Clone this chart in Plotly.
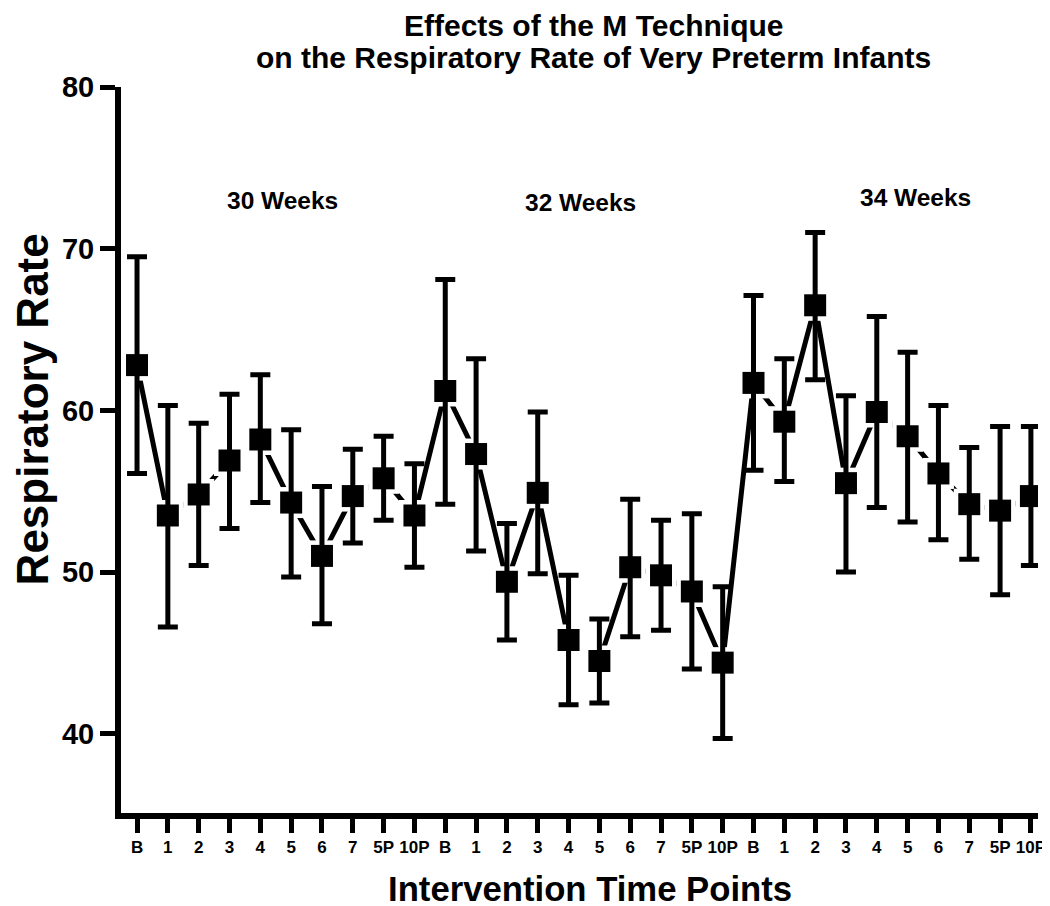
import plotly.graph_objects as go

# ---- data ----
time_points = ["B", "1", "2", "3", "4", "5", "6", "7", "5P", "10P"]
group_labels = ["30 Weeks", "32 Weeks", "34 Weeks"]

rr_30_mean  = [62.8, 53.5, 54.8, 56.9, 58.2, 54.3, 51.0, 54.7, 55.8, 53.5]
rr_30_upper = [69.5, 60.3, 59.2, 61.0, 62.2, 58.8, 55.3, 57.6, 58.4, 56.7]
rr_30_lower = [56.1, 46.6, 50.4, 52.7, 54.3, 49.7, 46.8, 51.8, 53.2, 50.3]

rr_32_mean  = [61.2, 57.3, 49.4, 54.9, 45.8, 44.5, 50.3, 49.8, 48.8, 44.4]
rr_32_upper = [68.1, 63.2, 53.0, 59.9, 49.8, 47.1, 54.5, 53.2, 53.6, 49.1]
rr_32_lower = [54.2, 51.3, 45.8, 49.9, 41.8, 41.9, 46.0, 46.4, 44.0, 39.7]

rr_34_mean  = [61.7, 59.3, 66.5, 55.5, 59.9, 58.4, 56.1, 54.2, 53.8, 54.7]
rr_34_upper = [67.1, 63.2, 71.0, 60.9, 65.8, 63.6, 60.3, 57.7, 59.0, 59.0]
rr_34_lower = [56.3, 55.6, 61.9, 50.0, 54.0, 53.1, 52.0, 50.8, 48.6, 50.4]

# ---- build combined series ----
means = rr_30_mean + rr_32_mean + rr_34_mean
uppers = rr_30_upper + rr_32_upper + rr_34_upper
lowers = rr_30_lower + rr_32_lower + rr_34_lower
tick_text = time_points * 3
xpos = list(range(len(means)))
err_plus = [u - m for u, m in zip(uppers, means)]
err_minus = [m - l for m, l in zip(means, lowers)]

FONT = "Liberation Sans, Arial, sans-serif"

fig = go.Figure()
# connecting line
fig.add_trace(go.Scatter(x=xpos, y=means, mode="lines",
                         line=dict(color="black", width=5),
                         hoverinfo="skip", showlegend=False))
# white knockout squares to create small gaps between line and markers
fig.add_trace(go.Scatter(x=xpos, y=means, mode="markers",
                         marker=dict(symbol="square", size=31, color="white"),
                         hoverinfo="skip", showlegend=False))
# markers with error bars
fig.add_trace(go.Scatter(x=xpos, y=means, mode="markers",
                         marker=dict(symbol="square", size=22, color="black"),
                         error_y=dict(type="data", symmetric=False,
                                      array=err_plus, arrayminus=err_minus,
                                      color="black", thickness=5, width=10),
                         showlegend=False))

# group labels
group_x = [4.72, 14.40, 25.27]
group_y = [72.95, 72.85, 73.15]
for gx, gy, txt in zip(group_x, group_y, group_labels):
    fig.add_annotation(x=gx, y=gy, xref="x", yref="y", text=txt,
                       showarrow=False,
                       font=dict(family=FONT, size=24.5, color="black", weight="bold"))

# title (two lines)
fig.add_annotation(x=0.515, y=1.0847, xref="paper", yref="paper",
                   text="Effects of the M Technique", showarrow=False,
                   yanchor="middle",
                   font=dict(family=FONT, size=30, color="black", weight="bold"))
fig.add_annotation(x=0.515, y=1.0413, xref="paper", yref="paper",
                   text="on the Respiratory Rate of Very Preterm Infants", showarrow=False,
                   yanchor="middle",
                   font=dict(family=FONT, size=30, color="black", weight="bold"))

# axis titles
fig.add_annotation(x=-0.097, y=0.556, xref="paper", yref="paper",
                   text="Respiratory Rate", showarrow=False, textangle=-90,
                   xanchor="center", yanchor="middle",
                   font=dict(family=FONT, size=44, color="black", weight="bold"))
fig.add_annotation(x=0.511, y=-0.104, xref="paper", yref="paper",
                   text="Intervention Time Points", showarrow=False,
                   xanchor="center", yanchor="middle",
                   font=dict(family=FONT, size=34.7, color="black", weight="bold"))

fig.update_layout(
    width=1050, height=906,
    margin=dict(l=113, r=18, t=79, b=101),
    paper_bgcolor="white", plot_bgcolor="white",
    font=dict(family=FONT, color="black"),
)
fig.update_xaxes(
    range=[-0.52, 29.23], tickmode="array", tickvals=xpos, ticktext=tick_text,
    showline=True, linecolor="black", linewidth=6, showgrid=False, zeroline=False,
    ticks="outside", ticklen=14, tickwidth=5, tickcolor="black",
    tickfont=dict(family=FONT, size=17, color="black", weight="bold"),
)
fig.update_yaxes(
    range=[35.1, 80], tickmode="array", tickvals=[40, 50, 60, 70, 80],
    showline=True, linecolor="black", linewidth=6, showgrid=False, zeroline=False,
    ticks="outside", ticklen=15, tickwidth=5, tickcolor="black",
    tickfont=dict(family=FONT, size=29, color="black", weight="bold"),
)

fig.write_html("out.html")
